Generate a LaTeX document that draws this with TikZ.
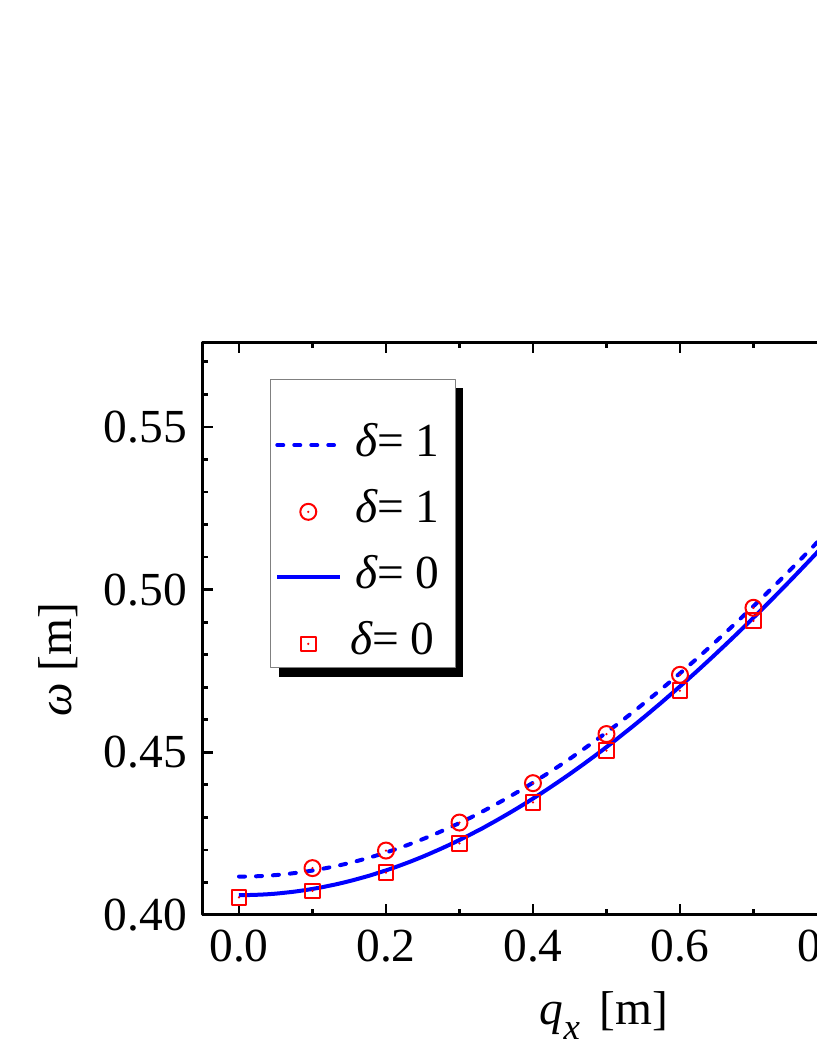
\documentclass[tikz,border=0pt]{standalone}
\usepackage{fontspec}
\setmainfont{Liberation Serif}
\begin{document}
\begin{tikzpicture}[x=14.7cm,y=65.08cm,line join=round,font=\fontsize{27}{30}\selectfont,
	curve/.style={blue,line width=0.08cm},
	dashcurve/.style={curve,line cap=round,dash pattern=on 0.12cm off 0.22cm},
	mark1/.style={red,line width=0.04cm}]
	\useasboundingbox (-0.32517,0.356054) rectangle (0.786395,0.681192);
	\clip (-0.32517,0.356054) rectangle (0.786395,0.681192);
	\draw[line width=0.06cm] (-0.05,0.4) rectangle (0.95,0.576);
	\foreach \i in {0,...,7}{
		\pgfmathsetmacro\len{mod(\i,2)==0 ? 0.22 : 0.12}
		\draw[line width=0.055cm] (\i/10,0.4)--++(0,\len cm) (\i/10,0.576)--++(0,-\len cm);}
	\foreach \j in {0,...,17}{
		\pgfmathsetmacro\len{mod(\j,5)==0 ? 0.22 : 0.12}
		\draw[line width=0.055cm] (-0.05,0.4+\j/100)--++(\len cm,0);}
	\foreach \v [count=\k] in {0.0,0.2,0.4,0.6,0.8}
		\node[anchor=north,inner sep=0,yshift=-0.3cm] (xt\k) at (\v,0.4) {\v};
	\foreach \v [count=\k] in {0.40,0.45,0.50,0.55}
		\node[anchor=east,inner sep=0,xshift=-0.3cm] (yt\k) at (-0.05,\v) {\v};
	\node[anchor=base] (xlab) at (0.4966,0.3662) {{\itshape q\raisebox{-0.3em}{\fontsize{21}{21}\selectfont x}}\, [m]};
	\node[rotate=90,anchor=base] (ylab) at (-0.2272,0.4784) {{\itshape ω} [m]};
	\draw[dashcurve,domain=0:0.8,samples=100] plot (\x,{sqrt(0.16958+0.1538*\x*\x)});
	\draw[curve,domain=0:0.8,samples=100] plot (\x,{sqrt(0.16492+0.1562*\x*\x)});
	\foreach \q/\w in {0.1/0.4144,0.2/0.4198,0.3/0.4284,0.4/0.4405,0.5/0.4556,0.6/0.4738,0.7/0.4944}{
		\draw[mark1] (\q,\w) circle (0.16cm); \fill[red] (\q,\w) circle (0.025cm);}
	\foreach \q/\w in {0/0.4054,0.1/0.4074,0.2/0.4130,0.3/0.4220,0.4/0.4346,0.5/0.4505,0.6/0.4689,0.7/0.4904}{
		\draw[mark1] (\q,\w) ++(-0.147cm,-0.147cm) rectangle ++(0.294cm,0.294cm); \fill[red] (\q,\w) circle (0.025cm);}
	\fill (0.0544,0.4731) rectangle (0.3048,0.5620);
	\draw[gray,fill=white,line width=0.02cm] (0.0435,0.4759) rectangle (0.2939,0.5644);
	\draw[dashcurve] (0.0521,0.5444)--(0.1293,0.5444);
	\draw[mark1] (0.0943,0.5239) circle (0.16cm); \fill[red] (0.0943,0.5239) circle (0.025cm);
	\draw[curve] (0.0521,0.5038)--(0.1374,0.5038);
	\draw[mark1] (0.0943,0.4833) ++(-0.147cm,-0.147cm) rectangle ++(0.294cm,0.294cm); \fill[red] (0.0943,0.4833) circle (0.025cm);
	\node[anchor=base west,inner sep=0,yshift=-0.22cm] (lg1) at (0.1578,0.5444) {{\itshape δ}= 1};
	\node[anchor=base west,inner sep=0,yshift=-0.22cm] (lg2) at (0.1578,0.5239) {{\itshape δ}= 1};
	\node[anchor=base west,inner sep=0,yshift=-0.22cm] (lg3) at (0.1578,0.5038) {{\itshape δ}= 0};
	\node[anchor=base west,inner sep=0,yshift=-0.22cm] (lg4) at (0.1510,0.4833) {{\itshape δ}= 0};
\end{tikzpicture}
\end{document}
